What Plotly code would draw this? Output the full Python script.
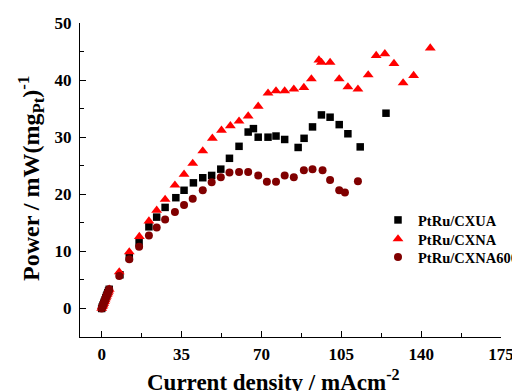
import plotly.graph_objects as go

low_x = [0, 0.3, 0.6, 0.9, 1.2, 1.5, 1.8, 2.1, 2.4, 2.7, 3.0, 3.3]
low_y = [0, 0.3, 0.6, 0.9, 1.2, 1.5, 1.85, 2.15, 2.45, 2.75, 3.05, 3.35]

cxua_x = low_x + [8.0, 12.1, 16.4, 20.7, 24.1, 27.8, 32.5, 36.1, 40.2, 44.3, 48.2, 52.2, 56.0,
                  60.2, 64.2, 66.5, 68.6, 72.9, 76.4, 80.2, 86.1, 88.7, 92.4, 96.3, 100.1,
                  104.1, 107.9, 113.3, 124.6]
cxua_y = low_y + [5.9, 8.9, 11.5, 14.3, 16.0, 17.7, 19.4, 20.7, 22.0, 22.9, 23.3, 24.4, 26.3,
                  28.4, 30.9, 31.5, 30.0, 30.0, 30.2, 29.6, 28.2, 29.8, 31.8, 33.9, 33.5,
                  32.2, 30.6, 28.3, 34.2]

cxna_x = low_x + [7.7, 12.1, 16.5, 20.7, 24.1, 27.8, 32.1, 36.1, 39.9, 44.3, 48.5, 52.5, 56.4,
                  60.2, 64.2, 68.6, 72.9, 76.4, 80.2, 84.2, 88.6, 91.9, 95.2, 96.3, 100.1,
                  104.1, 107.9, 112.3, 116.8, 120.3, 124.1, 128.1, 132.1, 136.7, 144.0]
cxna_y = low_y + [6.4, 9.9, 12.6, 15.3, 17.2, 19.1, 21.6, 23.5, 25.4, 27.6, 29.8, 31.2, 32.0,
                  32.8, 33.7, 35.4, 37.7, 38.1, 38.1, 38.4, 38.7, 40.2, 43.5, 43.1, 43.1,
                  40.2, 38.8, 38.4, 40.9, 44.3, 44.6, 42.9, 39.5, 40.8, 45.6]

cxna600_x = low_x + [7.7, 12.1, 16.4, 20.7, 24.1, 27.8, 32.1, 36.1, 39.9, 44.3, 48.2, 52.2, 56.0,
                     60.2, 64.2, 68.6, 72.4, 76.4, 80.2, 84.2, 88.6, 92.4, 96.8, 100.1,
                     104.1, 106.6, 112.3]
cxna600_y = low_y + [5.7, 8.6, 10.8, 12.8, 14.2, 15.6, 16.9, 18.1, 19.2, 20.7, 22.1, 23.0, 23.8,
                     23.9, 23.9, 23.3, 22.2, 22.2, 23.3, 23.0, 24.2, 24.4, 24.2, 22.5,
                     20.7, 20.3, 22.3]

x_ticks = [0, 35, 70, 105, 140, 175]
y_ticks = [0, 10, 20, 30, 40, 50]

FONT = "Liberation Serif"

# The page body has an 8px margin, so the figure is offset by 8px in the window.
OFF = 8
WIN_W, WIN_H = 520, 391
W, H = WIN_W - OFF, WIN_H - OFF
# target plot area in window pixels: x 80..501, y 23..337
L = 80 - OFF
T = 23 - OFF
R = W - (501 - OFF)
B = H - (337 - OFF)
PW, PH = W - L - R, H - T - B


def px_to_paper_x(px):
    return (px - OFF - L) / PW


def px_to_paper_y(py):
    return (H - B - (py - OFF)) / PH


fig = go.Figure()
fig.add_trace(go.Scatter(x=cxua_x, y=cxua_y, mode="markers", name="PtRu/CXUA", legend="legend",
                         marker=dict(symbol="square", size=7.5, color="#000000")))
fig.add_trace(go.Scatter(x=cxna_x, y=cxna_y, mode="markers", name="PtRu/CXNA", legend="legend2",
                         marker=dict(symbol="triangle-up", size=9.5, color="#ff0000")))
fig.add_trace(go.Scatter(x=cxna600_x, y=cxna600_y, mode="markers", name="PtRu/CXNA600", legend="legend3",
                         marker=dict(symbol="circle", size=8, color="#800000")))

axis_common = dict(showgrid=False, zeroline=False, showline=True, linecolor="black",
                   linewidth=1.2, ticks="inside", ticklen=6, tickwidth=1.2, tickcolor="black",
                   automargin=False,
                   tickfont=dict(family=FONT, size=17, color="black", weight="bold"))

fig.update_xaxes(range=[-9.5, 175], tickvals=x_ticks, ticktext=[str(v) for v in x_ticks],
                 minor=dict(dtick=17.5, tick0=0, ticks="inside", ticklen=4, tickcolor="black", tickwidth=1),
                 ticklabelstandoff=1, **axis_common)
fig.update_yaxes(range=[-5, 50], tickvals=y_ticks, ticktext=[str(v) for v in y_ticks],
                 minor=dict(dtick=5, tick0=0, ticks="inside", ticklen=4, tickcolor="black", tickwidth=1),
                 ticklabelstandoff=4, **axis_common)

fig.add_annotation(text="Current density / mAcm<sup>-2</sup>", xref="paper", yref="paper",
                   x=px_to_paper_x(273), y=px_to_paper_y(380), xanchor="center", yanchor="middle",
                   showarrow=False, font=dict(family=FONT, size=23, color="black", weight="bold"))
fig.add_annotation(text="Power / mW(mg<sub>Pt</sub>)<sup>-1</sup>", xref="paper", yref="paper",
                   x=px_to_paper_x(31), y=px_to_paper_y(179), xanchor="center", yanchor="middle",
                   textangle=-90, showarrow=False,
                   font=dict(family=FONT, size=24, color="black", weight="bold"))

leg_font = dict(family=FONT, size=14.5, color="black", weight="bold")
leg_common = dict(xanchor="left", yanchor="middle",
                  font=leg_font, bgcolor="rgba(0,0,0,0)", borderwidth=0, itemwidth=30,
                  x=px_to_paper_x(378))

fig.update_layout(
    width=W, height=H,
    margin=dict(l=L, r=R, t=T, b=B, autoexpand=False),
    paper_bgcolor="white", plot_bgcolor="white",
    font=dict(family=FONT, color="black"),
    showlegend=True,
    legend=dict(y=px_to_paper_y(220), **leg_common),
    legend2=dict(y=px_to_paper_y(239), **leg_common),
    legend3=dict(y=px_to_paper_y(257), **leg_common),
)

fig.write_html("out.html")
